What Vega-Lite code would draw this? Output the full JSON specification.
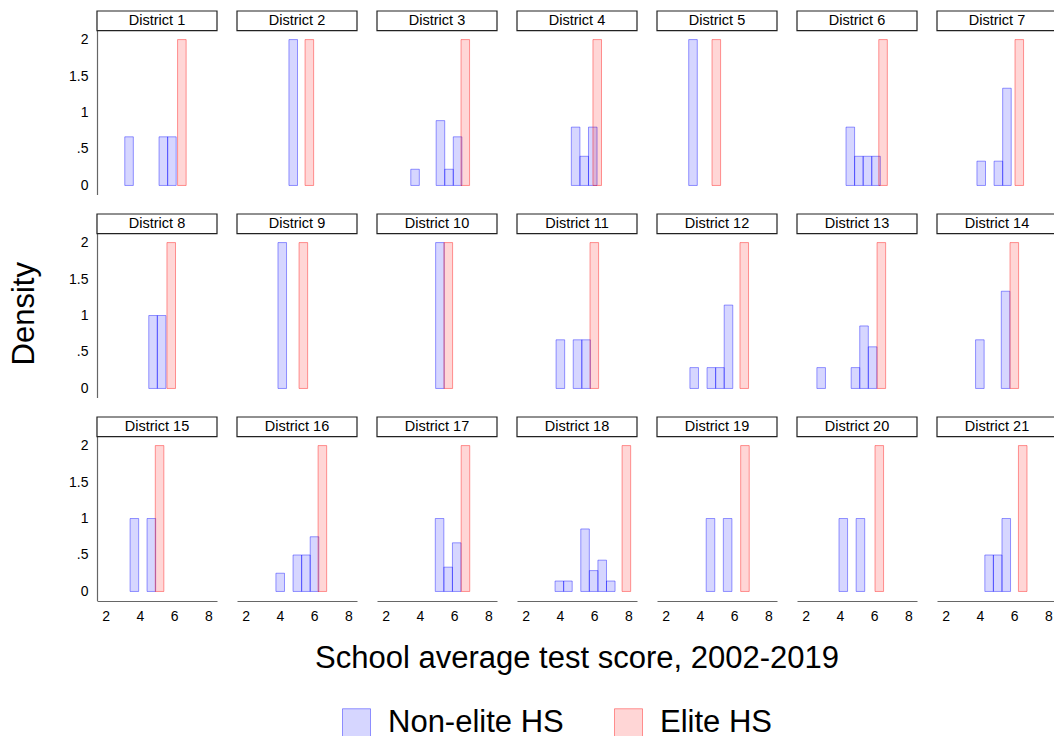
{
  "$schema": "https://vega.github.io/schema/vega-lite/v6.json",
  "padding": {"left": 8, "top": 10, "right": 0, "bottom": 0},
  "title": {"text": "Density", "orient": "left", "anchor": "middle", "frame": "bounds", "fontSize": 31, "fontWeight": "normal", "color": "#000000", "offset": 28, "dx": 61},
  "config": {
    "font": "Liberation Sans",
    "view": {"stroke": null},
    "axis": {"grid": false, "domainColor": "#666666", "domainWidth": 1.2, "labelColor": "#000000", "labelFontSize": 14, "title": null}
  },
  "data": {"values": [
    {"district": "District 1", "num": 1, "group": "Non-elite HS", "x0": 3.12, "x1": 3.62, "density": 0.667},
    {"district": "District 1", "num": 1, "group": "Non-elite HS", "x0": 5.12, "x1": 5.62, "density": 0.667},
    {"district": "District 1", "num": 1, "group": "Non-elite HS", "x0": 5.62, "x1": 6.12, "density": 0.667},
    {"district": "District 1", "num": 1, "group": "Elite HS", "x0": 6.2, "x1": 6.7, "density": 2},
    {"district": "District 2", "num": 2, "group": "Non-elite HS", "x0": 4.53, "x1": 5.03, "density": 2},
    {"district": "District 2", "num": 2, "group": "Elite HS", "x0": 5.47, "x1": 5.97, "density": 2},
    {"district": "District 3", "num": 3, "group": "Non-elite HS", "x0": 3.47, "x1": 3.97, "density": 0.222},
    {"district": "District 3", "num": 3, "group": "Non-elite HS", "x0": 4.95, "x1": 5.45, "density": 0.889},
    {"district": "District 3", "num": 3, "group": "Non-elite HS", "x0": 5.45, "x1": 5.95, "density": 0.222},
    {"district": "District 3", "num": 3, "group": "Non-elite HS", "x0": 5.95, "x1": 6.45, "density": 0.667},
    {"district": "District 3", "num": 3, "group": "Elite HS", "x0": 6.4, "x1": 6.9, "density": 2},
    {"district": "District 4", "num": 4, "group": "Non-elite HS", "x0": 4.67, "x1": 5.17, "density": 0.8},
    {"district": "District 4", "num": 4, "group": "Non-elite HS", "x0": 5.17, "x1": 5.67, "density": 0.4},
    {"district": "District 4", "num": 4, "group": "Non-elite HS", "x0": 5.67, "x1": 6.17, "density": 0.8},
    {"district": "District 4", "num": 4, "group": "Elite HS", "x0": 5.93, "x1": 6.43, "density": 2},
    {"district": "District 5", "num": 5, "group": "Non-elite HS", "x0": 3.35, "x1": 3.85, "density": 2},
    {"district": "District 5", "num": 5, "group": "Elite HS", "x0": 4.71, "x1": 5.21, "density": 2},
    {"district": "District 6", "num": 6, "group": "Non-elite HS", "x0": 4.36, "x1": 4.86, "density": 0.8},
    {"district": "District 6", "num": 6, "group": "Non-elite HS", "x0": 4.86, "x1": 5.36, "density": 0.4},
    {"district": "District 6", "num": 6, "group": "Non-elite HS", "x0": 5.36, "x1": 5.86, "density": 0.4},
    {"district": "District 6", "num": 6, "group": "Non-elite HS", "x0": 5.86, "x1": 6.36, "density": 0.4},
    {"district": "District 6", "num": 6, "group": "Elite HS", "x0": 6.27, "x1": 6.77, "density": 2},
    {"district": "District 7", "num": 7, "group": "Non-elite HS", "x0": 3.83, "x1": 4.33, "density": 0.333},
    {"district": "District 7", "num": 7, "group": "Non-elite HS", "x0": 4.83, "x1": 5.33, "density": 0.333},
    {"district": "District 7", "num": 7, "group": "Non-elite HS", "x0": 5.33, "x1": 5.83, "density": 1.333},
    {"district": "District 7", "num": 7, "group": "Elite HS", "x0": 6.05, "x1": 6.55, "density": 2},
    {"district": "District 8", "num": 8, "group": "Non-elite HS", "x0": 4.52, "x1": 5.02, "density": 1},
    {"district": "District 8", "num": 8, "group": "Non-elite HS", "x0": 5.02, "x1": 5.52, "density": 1},
    {"district": "District 8", "num": 8, "group": "Elite HS", "x0": 5.58, "x1": 6.08, "density": 2},
    {"district": "District 9", "num": 9, "group": "Non-elite HS", "x0": 3.89, "x1": 4.39, "density": 2},
    {"district": "District 9", "num": 9, "group": "Elite HS", "x0": 5.12, "x1": 5.62, "density": 2},
    {"district": "District 10", "num": 10, "group": "Non-elite HS", "x0": 4.92, "x1": 5.42, "density": 2},
    {"district": "District 10", "num": 10, "group": "Elite HS", "x0": 5.41, "x1": 5.91, "density": 2},
    {"district": "District 11", "num": 11, "group": "Non-elite HS", "x0": 3.78, "x1": 4.28, "density": 0.667},
    {"district": "District 11", "num": 11, "group": "Non-elite HS", "x0": 4.78, "x1": 5.28, "density": 0.667},
    {"district": "District 11", "num": 11, "group": "Non-elite HS", "x0": 5.28, "x1": 5.78, "density": 0.667},
    {"district": "District 11", "num": 11, "group": "Elite HS", "x0": 5.76, "x1": 6.26, "density": 2},
    {"district": "District 12", "num": 12, "group": "Non-elite HS", "x0": 3.42, "x1": 3.92, "density": 0.286},
    {"district": "District 12", "num": 12, "group": "Non-elite HS", "x0": 4.42, "x1": 4.92, "density": 0.286},
    {"district": "District 12", "num": 12, "group": "Non-elite HS", "x0": 4.92, "x1": 5.42, "density": 0.286},
    {"district": "District 12", "num": 12, "group": "Non-elite HS", "x0": 5.42, "x1": 5.92, "density": 1.143},
    {"district": "District 12", "num": 12, "group": "Elite HS", "x0": 6.34, "x1": 6.84, "density": 2},
    {"district": "District 13", "num": 13, "group": "Non-elite HS", "x0": 2.66, "x1": 3.16, "density": 0.286},
    {"district": "District 13", "num": 13, "group": "Non-elite HS", "x0": 4.66, "x1": 5.16, "density": 0.286},
    {"district": "District 13", "num": 13, "group": "Non-elite HS", "x0": 5.16, "x1": 5.66, "density": 0.857},
    {"district": "District 13", "num": 13, "group": "Non-elite HS", "x0": 5.66, "x1": 6.16, "density": 0.571},
    {"district": "District 13", "num": 13, "group": "Elite HS", "x0": 6.17, "x1": 6.67, "density": 2},
    {"district": "District 14", "num": 14, "group": "Non-elite HS", "x0": 3.75, "x1": 4.25, "density": 0.667},
    {"district": "District 14", "num": 14, "group": "Non-elite HS", "x0": 5.25, "x1": 5.75, "density": 1.333},
    {"district": "District 14", "num": 14, "group": "Elite HS", "x0": 5.76, "x1": 6.26, "density": 2},
    {"district": "District 15", "num": 15, "group": "Non-elite HS", "x0": 3.43, "x1": 3.93, "density": 1},
    {"district": "District 15", "num": 15, "group": "Non-elite HS", "x0": 4.42, "x1": 4.92, "density": 1},
    {"district": "District 15", "num": 15, "group": "Elite HS", "x0": 4.9, "x1": 5.4, "density": 2},
    {"district": "District 16", "num": 16, "group": "Non-elite HS", "x0": 3.77, "x1": 4.27, "density": 0.25},
    {"district": "District 16", "num": 16, "group": "Non-elite HS", "x0": 4.77, "x1": 5.27, "density": 0.5},
    {"district": "District 16", "num": 16, "group": "Non-elite HS", "x0": 5.27, "x1": 5.77, "density": 0.5},
    {"district": "District 16", "num": 16, "group": "Non-elite HS", "x0": 5.77, "x1": 6.27, "density": 0.75},
    {"district": "District 16", "num": 16, "group": "Elite HS", "x0": 6.23, "x1": 6.73, "density": 2},
    {"district": "District 17", "num": 17, "group": "Non-elite HS", "x0": 4.9, "x1": 5.4, "density": 1},
    {"district": "District 17", "num": 17, "group": "Non-elite HS", "x0": 5.4, "x1": 5.9, "density": 0.333},
    {"district": "District 17", "num": 17, "group": "Non-elite HS", "x0": 5.9, "x1": 6.4, "density": 0.667},
    {"district": "District 17", "num": 17, "group": "Elite HS", "x0": 6.41, "x1": 6.91, "density": 2},
    {"district": "District 18", "num": 18, "group": "Non-elite HS", "x0": 3.72, "x1": 4.22, "density": 0.143},
    {"district": "District 18", "num": 18, "group": "Non-elite HS", "x0": 4.22, "x1": 4.72, "density": 0.143},
    {"district": "District 18", "num": 18, "group": "Non-elite HS", "x0": 5.22, "x1": 5.72, "density": 0.857},
    {"district": "District 18", "num": 18, "group": "Non-elite HS", "x0": 5.72, "x1": 6.22, "density": 0.286},
    {"district": "District 18", "num": 18, "group": "Non-elite HS", "x0": 6.22, "x1": 6.72, "density": 0.429},
    {"district": "District 18", "num": 18, "group": "Non-elite HS", "x0": 6.72, "x1": 7.22, "density": 0.143},
    {"district": "District 18", "num": 18, "group": "Elite HS", "x0": 7.63, "x1": 8.13, "density": 2},
    {"district": "District 19", "num": 19, "group": "Non-elite HS", "x0": 4.37, "x1": 4.87, "density": 1},
    {"district": "District 19", "num": 19, "group": "Non-elite HS", "x0": 5.37, "x1": 5.87, "density": 1},
    {"district": "District 19", "num": 19, "group": "Elite HS", "x0": 6.38, "x1": 6.88, "density": 2},
    {"district": "District 20", "num": 20, "group": "Non-elite HS", "x0": 3.95, "x1": 4.45, "density": 1},
    {"district": "District 20", "num": 20, "group": "Non-elite HS", "x0": 4.95, "x1": 5.45, "density": 1},
    {"district": "District 20", "num": 20, "group": "Elite HS", "x0": 6.05, "x1": 6.55, "density": 2},
    {"district": "District 21", "num": 21, "group": "Non-elite HS", "x0": 4.29, "x1": 4.79, "density": 0.5},
    {"district": "District 21", "num": 21, "group": "Non-elite HS", "x0": 4.79, "x1": 5.29, "density": 0.5},
    {"district": "District 21", "num": 21, "group": "Non-elite HS", "x0": 5.29, "x1": 5.79, "density": 1},
    {"district": "District 21", "num": 21, "group": "Elite HS", "x0": 6.25, "x1": 6.75, "density": 2}
  ]},
  "facet": {"field": "district", "type": "ordinal", "sort": {"field": "num", "op": "min"},
            "title": "School average test score, 2002-2019",
            "header": {"labels": false, "labelExpr": "''", "labelFontSize": 0, "labelPadding": 0,
                       "titleOrient": "bottom", "titleFontSize": 31, "titleFontWeight": "normal", "titleColor": "#000000", "titlePadding": 21}},
  "columns": 7,
  "bounds": "flush",
  "spacing": {"row": 19, "column": 20},
  "spec": {
    "width": 120,
    "height": 183.5,
    "layer": [
      {
        "mark": {"type": "rect", "fillOpacity": 0.16, "strokeOpacity": 0.4, "strokeWidth": 1},
        "encoding": {
          "x": {"field": "x0", "type": "quantitative", "scale": {"domain": [1.5, 8.5], "nice": false, "zero": false},
                "axis": {"tickCount": 4, "format": "d", "labelFontSize": 14, "labelPadding": 8, "tickSize": 0, "tickOpacity": 0, "labelOverlap": false, "labelFlush": false, "labelBound": false, "labelSeparation": 0, "zindex": 2}},
          "x2": {"field": "x1"},
          "y": {"field": "density", "type": "quantitative", "scale": {"domain": [-0.124, 2.392], "nice": false, "zero": false},
                "axis": {"values": [0, 0.5, 1, 1.5, 2], "format": ".1~f", "labelExpr": "datum.value == 0.5 ? '.5' : datum.label", "labelPadding": 9, "tickSize": 0, "tickOpacity": 0, "labelOverlap": false}},
          "y2": {"datum": 0},
          "fill": {"field": "group", "type": "nominal",
                   "scale": {"domain": ["Non-elite HS", "Elite HS"], "range": ["#0000ff", "#ff0000"]},
                   "legend": {"title": null, "orient": "none", "legendX": 244, "legendY": 696, "direction": "horizontal", "symbolType": "square", "symbolSize": 784, "symbolStrokeWidth": 1, "labelFontSize": 31, "labelLimit": 400, "labelColor": "#000000", "labelOffset": 16, "columnPadding": 48,
                              "encode": {"symbols": {"update": {"fillOpacity": {"value": 0.16}, "strokeOpacity": {"value": 0.4}}}}}},
          "stroke": {"field": "group", "type": "nominal", "scale": {"domain": ["Non-elite HS", "Elite HS"], "range": ["#0000ff", "#ff0000"]}}
        }
      },
      {
        "transform": [{"aggregate": [{"op": "count", "as": "n"}], "groupby": ["district"]}],
        "layer": [
          {
            "mark": {"type": "rect", "fill": "white", "stroke": "#222222", "strokeWidth": 1.2},
            "encoding": {"x": {"datum": 1.5}, "x2": {"datum": 8.5}, "y": {"datum": 2.124}, "y2": {"datum": 2.392}}
          },
          {
            "mark": {"type": "text", "fontSize": 14.5, "color": "#000000", "baseline": "middle", "align": "center"},
            "encoding": {"x": {"datum": 5}, "y": {"datum": 2.258}, "text": {"field": "district"}}
          }
        ]
      }
    ]
  }
}
